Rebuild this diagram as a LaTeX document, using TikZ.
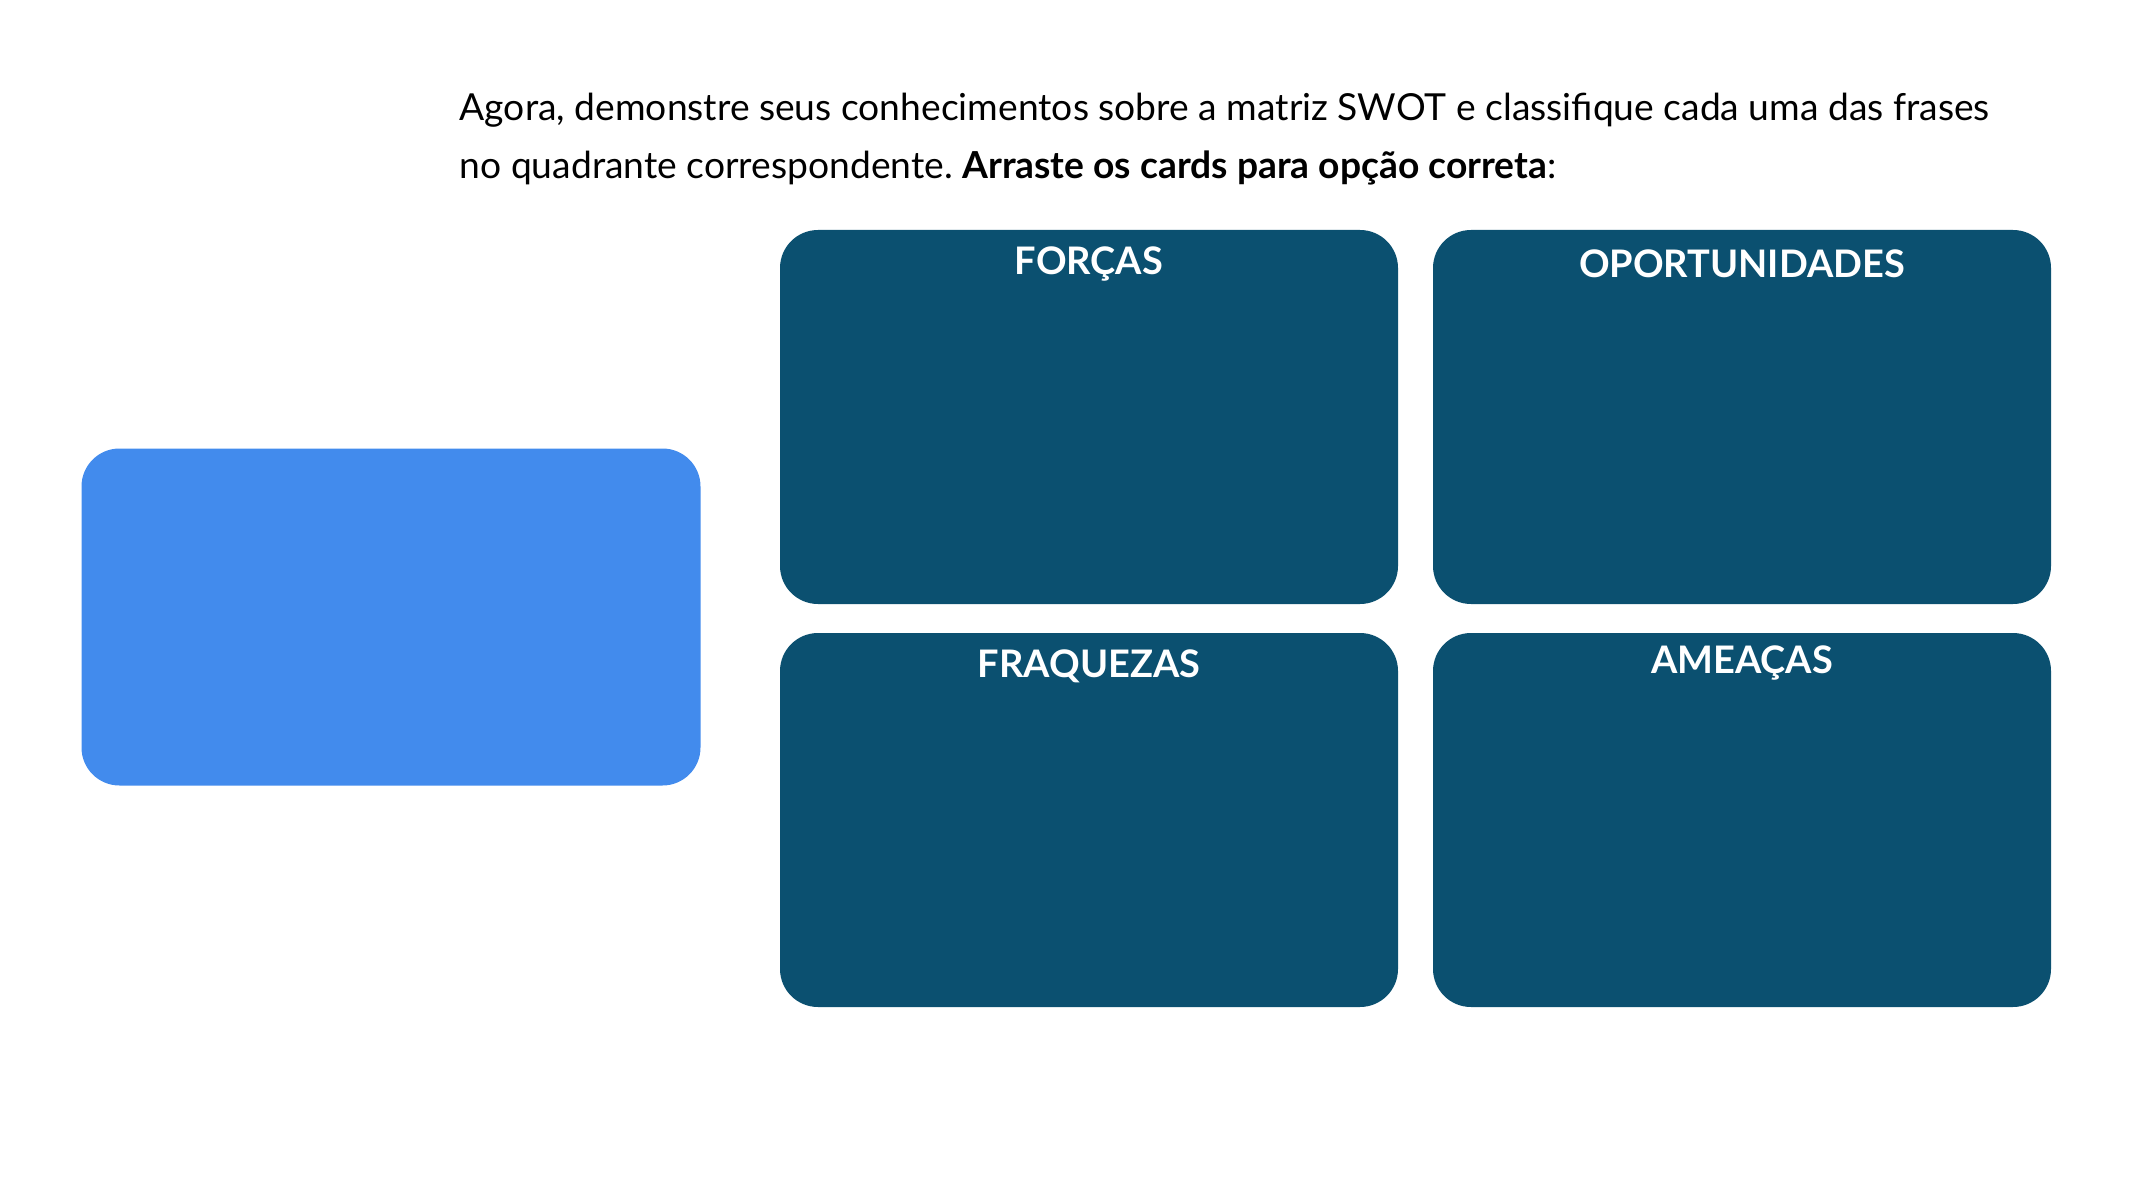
\documentclass[tikz,border=0pt]{standalone}
\usepackage{fontspec}
\setmainfont{Lato}
\usepackage{tikz}
\usetikzlibrary{positioning}
\definecolor{quadcol}{HTML}{0B5070}
\definecolor{cardcol}{HTML}{428BED}
\newcommand{\quadw}{6.18cm}
\newcommand{\quadh}{3.74cm}
\frenchspacing

\begin{document}
\begin{tikzpicture}[
    quadrant/.style={fill=quadcol, draw=none, rounded corners=0.38cm,
        minimum width=\quadw, minimum height=\quadh, inner sep=0pt},
    quadtitle/.style={text=white, inner sep=0pt, font=\fontsize{10.8pt}{13pt}\selectfont\bfseries},
    ]

        \useasboundingbox (0, 0) rectangle (21.33, -12.04);

        % enunciado
        \node[anchor=north west, align=left, inner sep=0pt,
              font=\fontsize{10.59pt}{16.7pt}\selectfont] (enunciado) at (4.59, -0.92)
            {Agora, demonstre seus conhecimentos sobre a matriz SWOT e classifique cada uma das frases\\
             no quadrante correspondente. \textbf{Arraste os cards para opção correta}:};

        % quadrantes
        \node[quadrant] (forcas) at (10.89, -4.17) {};
        \node[quadrant] (oport) at (17.42, -4.17) {};
        \node[quadrant] (fraq) at (10.89, -8.20) {};
        \node[quadrant] (ameacas) at (17.42, -8.20) {};

        \node[quadtitle, below=0.17cm of forcas.north] (tforcas) {FORÇAS};
        \node[quadtitle, below=0.20cm of oport.north] (toport) {OPORTUNIDADES};
        \node[quadtitle, below=0.17cm of fraq.north] (tfraq) {FRAQUEZAS};
        \node[quadtitle, below=0.13cm of ameacas.north] (tameacas) {AMEAÇAS};

        % card
        \node[fill=cardcol, draw=none, rounded corners=0.38cm, inner sep=0pt,
              minimum width=6.19cm, minimum height=3.37cm] (card) at (3.91, -6.17) {};

\end{tikzpicture}
\end{document}
